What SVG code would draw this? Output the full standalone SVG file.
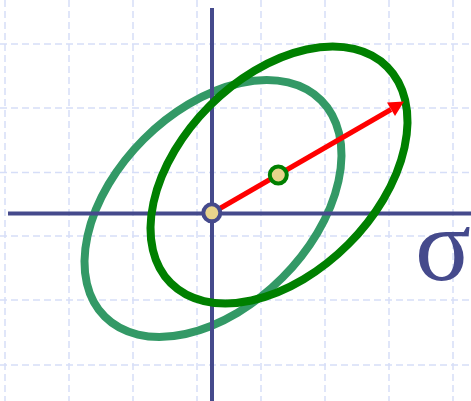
<svg xmlns="http://www.w3.org/2000/svg" width="471" height="401" viewBox="0 0 471 401">
<style>
.grid line{stroke:#d6def8;stroke-width:1.5;stroke-dasharray:7 4}
.axis{stroke:#454a8c;stroke-width:4}
.ell{fill:none;stroke-width:8}
.pt{fill:#e8d48c;stroke-width:4}
</style>
<rect width="471" height="401" fill="#fff"/>
<g class="grid" id="grid">
<line x1="5" y1="0" x2="5" y2="401"/>
<line x1="69" y1="0" x2="69" y2="401"/>
<line x1="133" y1="0" x2="133" y2="401"/>
<line x1="197" y1="0" x2="197" y2="401"/>
<line x1="261" y1="0" x2="261" y2="401"/>
<line x1="325" y1="0" x2="325" y2="401"/>
<line x1="389" y1="0" x2="389" y2="401"/>
<line x1="453" y1="0" x2="453" y2="401"/>
<line x1="0" y1="44" x2="471" y2="44"/>
<line x1="0" y1="108" x2="471" y2="108"/>
<line x1="0" y1="172.5" x2="471" y2="172.5"/>
<line x1="0" y1="236" x2="471" y2="236"/>
<line x1="0" y1="300" x2="471" y2="300"/>
<line x1="0" y1="365" x2="471" y2="365"/>
</g>
<g id="ellipse-teal">
<ellipse class="ell" cx="213" cy="208.5" rx="153" ry="98" transform="rotate(-45 213 208.5)" stroke="#339966"/>
</g>
<g id="axes">
<line class="axis" x1="212" y1="8" x2="212" y2="401"/>
<line class="axis" x1="8" y1="213.5" x2="471" y2="213.5"/>
<text x="415" y="280" font-family="Liberation Serif, serif" font-size="104" fill="#454a8c">σ</text>
</g>
<g id="ellipse-green">
<ellipse class="ell" cx="279" cy="175" rx="153" ry="98" transform="rotate(-45 279 175)" stroke="#008000"/>
</g>
<g id="connectors">
<line x1="212" y1="213" x2="391" y2="109.5" stroke="#ff0000" stroke-width="5"/>
<polygon points="404,101.5 387,102.5 395,116" fill="#ff0000"/>
</g>
<g id="origin">
<circle class="pt" cx="211.8" cy="212.8" r="8.5" stroke="#454a8c"/>
</g>
<g id="mean">
<circle class="pt" cx="278.3" cy="175" r="8.5" stroke="#008000"/>
</g>
</svg>
